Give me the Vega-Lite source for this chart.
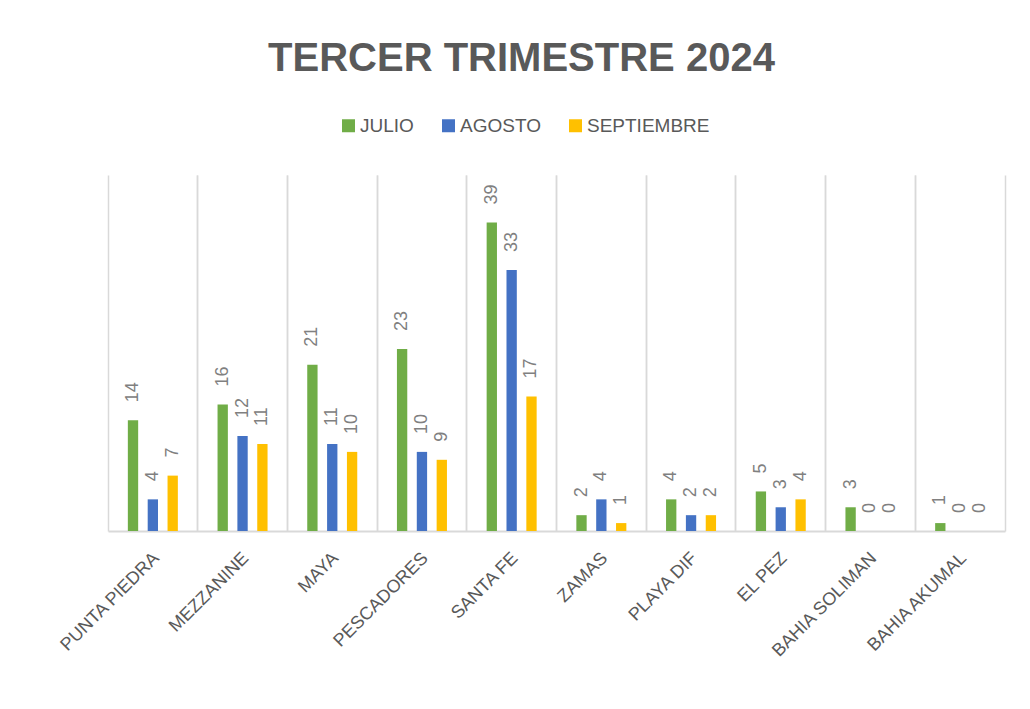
{
  "$schema": "https://vega.github.io/schema/vega-lite/v6.json",
  "width": 897,
  "height": 356,
  "autosize": {"type": "none"},
  "padding": {"left": 108, "top": 175, "right": 25, "bottom": 178},
  "background": "white",
  "title": {
    "text": "TERCER TRIMESTRE  2024",
    "font": "Liberation Sans",
    "fontSize": 40,
    "fontWeight": "bold",
    "color": "#595959",
    "anchor": "middle",
    "frame": "group",
    "dx": -35,
    "offset": 37
  },
  "config": {
    "view": {"stroke": null},
    "font": "Liberation Sans"
  },
  "data": {
    "values": [
      {"lugar": "PUNTA PIEDRA", "mes": "JULIO", "valor": 14},
      {"lugar": "PUNTA PIEDRA", "mes": "AGOSTO", "valor": 4},
      {"lugar": "PUNTA PIEDRA", "mes": "SEPTIEMBRE", "valor": 7},
      {"lugar": "MEZZANINE", "mes": "JULIO", "valor": 16},
      {"lugar": "MEZZANINE", "mes": "AGOSTO", "valor": 12},
      {"lugar": "MEZZANINE", "mes": "SEPTIEMBRE", "valor": 11},
      {"lugar": "MAYA", "mes": "JULIO", "valor": 21},
      {"lugar": "MAYA", "mes": "AGOSTO", "valor": 11},
      {"lugar": "MAYA", "mes": "SEPTIEMBRE", "valor": 10},
      {"lugar": "PESCADORES", "mes": "JULIO", "valor": 23},
      {"lugar": "PESCADORES", "mes": "AGOSTO", "valor": 10},
      {"lugar": "PESCADORES", "mes": "SEPTIEMBRE", "valor": 9},
      {"lugar": "SANTA FE", "mes": "JULIO", "valor": 39},
      {"lugar": "SANTA FE", "mes": "AGOSTO", "valor": 33},
      {"lugar": "SANTA FE", "mes": "SEPTIEMBRE", "valor": 17},
      {"lugar": "ZAMAS", "mes": "JULIO", "valor": 2},
      {"lugar": "ZAMAS", "mes": "AGOSTO", "valor": 4},
      {"lugar": "ZAMAS", "mes": "SEPTIEMBRE", "valor": 1},
      {"lugar": "PLAYA DIF", "mes": "JULIO", "valor": 4},
      {"lugar": "PLAYA DIF", "mes": "AGOSTO", "valor": 2},
      {"lugar": "PLAYA DIF", "mes": "SEPTIEMBRE", "valor": 2},
      {"lugar": "EL PEZ", "mes": "JULIO", "valor": 5},
      {"lugar": "EL PEZ", "mes": "AGOSTO", "valor": 3},
      {"lugar": "EL PEZ", "mes": "SEPTIEMBRE", "valor": 4},
      {"lugar": "BAHIA SOLIMAN", "mes": "JULIO", "valor": 3},
      {"lugar": "BAHIA SOLIMAN", "mes": "AGOSTO", "valor": 0},
      {"lugar": "BAHIA SOLIMAN", "mes": "SEPTIEMBRE", "valor": 0},
      {"lugar": "BAHIA AKUMAL", "mes": "JULIO", "valor": 1},
      {"lugar": "BAHIA AKUMAL", "mes": "AGOSTO", "valor": 0},
      {"lugar": "BAHIA AKUMAL", "mes": "SEPTIEMBRE", "valor": 0}
    ]
  },
  "resolve": {"axis": {"x": "independent"}},
  "layer": [
    {
      "mark": {"type": "bar"},
      "encoding": {
        "x": {
          "field": "lugar", "type": "nominal", "sort": null,
          "scale": {"paddingInner": 0, "paddingOuter": 0},
          "axis": {
            "orient": "bottom", "title": null, "labels": false, "ticks": false,
            "grid": true, "bandPosition": 0, "gridColor": "#d9d9d9", "gridWidth": 1.5,
            "domain": true, "domainColor": "#d9d9d9", "domainWidth": 2
          }
        },
        "xOffset": {
          "field": "mes", "type": "nominal",
          "sort": ["JULIO", "AGOSTO", "SEPTIEMBRE"],
          "scale": {"paddingInner": 0.48, "paddingOuter": 1.18}
        },
        "y": {
          "field": "valor", "type": "quantitative",
          "scale": {"domain": [0, 45], "nice": false},
          "axis": null
        },
        "color": {
          "field": "mes", "type": "nominal",
          "scale": {"domain": ["JULIO", "AGOSTO", "SEPTIEMBRE"], "range": ["#70AD47", "#4472C4", "#FFC000"]},
          "legend": {
            "title": null, "orient": "none", "direction": "horizontal",
            "legendX": 231, "legendY": -59, "padding": 0,
            "symbolType": "square", "symbolSize": 169, "symbolStrokeWidth": 0,
            "labelFont": "Liberation Sans", "labelFontSize": 19, "labelColor": "#595959",
            "labelOffset": 2, "columnPadding": 25
          }
        }
      }
    },
    {
      "mark": {
        "type": "text", "angle": 270, "align": "left", "baseline": "middle",
        "dx": 18, "fontSize": 18, "color": "#808080",
        "font": "Liberation Sans"
      },
      "encoding": {
        "x": {"field": "lugar", "type": "nominal", "sort": null, "axis": null},
        "xOffset": {"field": "mes", "type": "nominal", "sort": ["JULIO", "AGOSTO", "SEPTIEMBRE"]},
        "y": {"field": "valor", "type": "quantitative"},
        "text": {"field": "valor", "type": "quantitative"}
      }
    },
    {
      "transform": [{"filter": "datum.mes == 'JULIO'"}],
      "mark": {
        "type": "text", "angle": 315, "align": "right", "baseline": "top",
        "dx": -15, "dy": 11, "fontSize": 18, "color": "#595959",
        "font": "Liberation Sans"
      },
      "encoding": {
        "x": {
          "field": "lugar", "type": "nominal", "sort": null,
          "axis": {
            "orient": "top", "title": null, "labels": false, "ticks": false,
            "grid": true, "bandPosition": 1, "gridColor": "#d9d9d9", "gridWidth": 1.5,
            "domain": false
          }
        },
        "y": {"datum": 0, "type": "quantitative"},
        "text": {"field": "lugar", "type": "nominal"}
      }
    }
  ]
}
